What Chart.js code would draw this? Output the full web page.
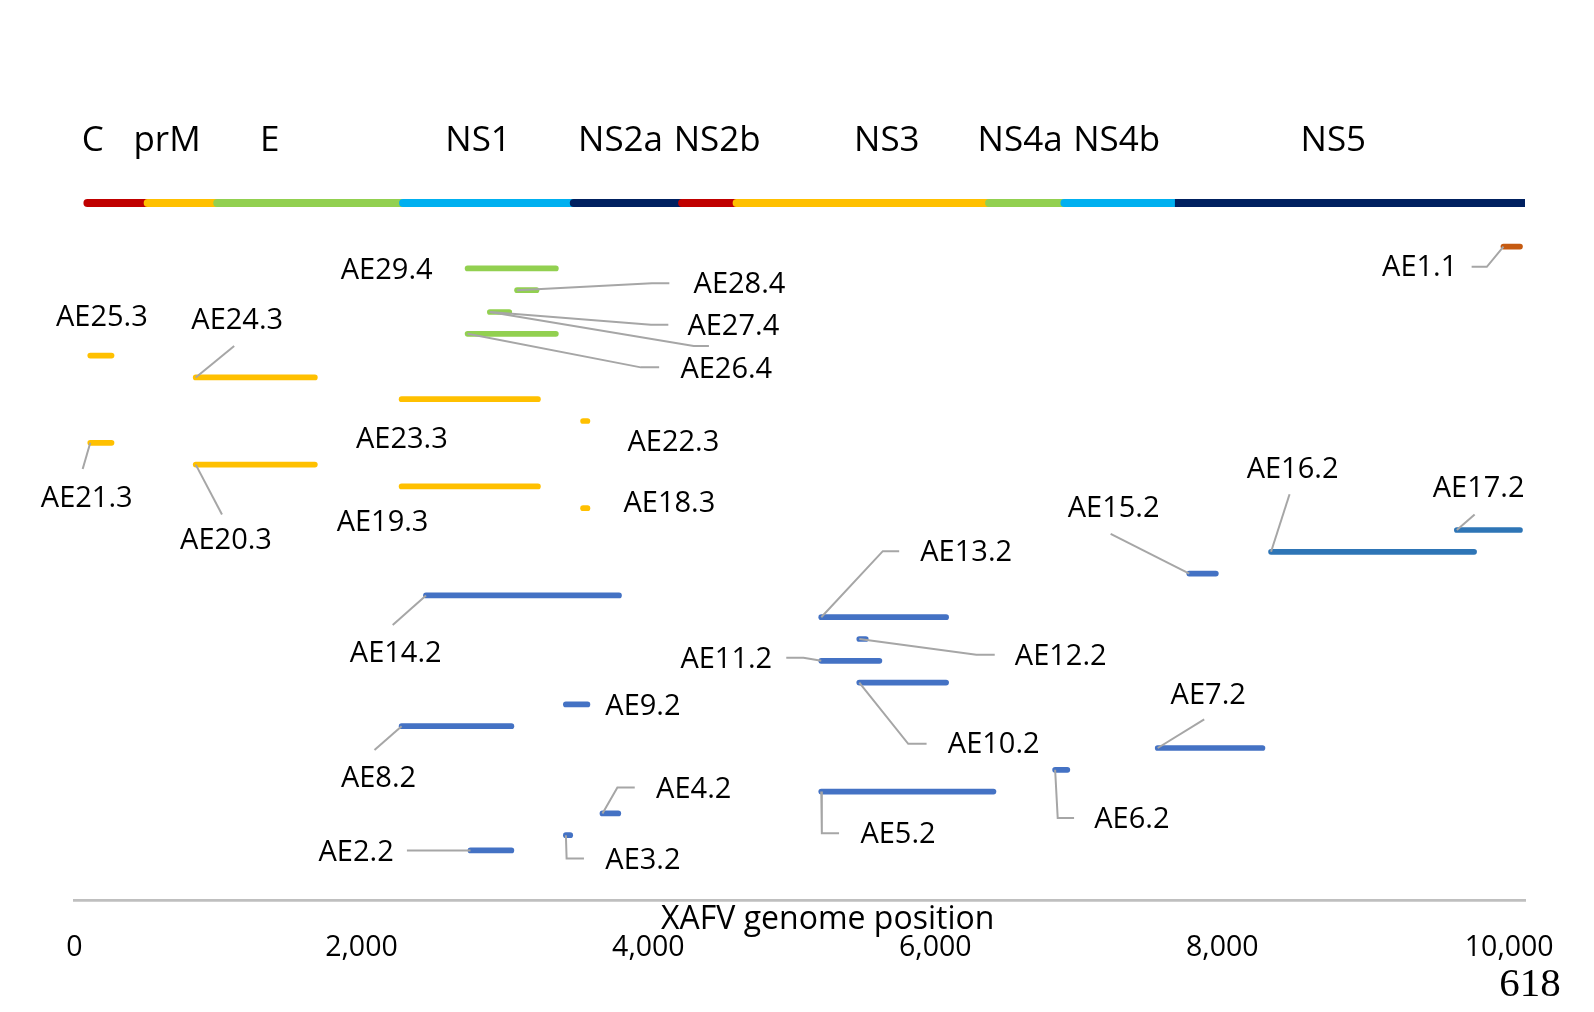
<!DOCTYPE html>
<html>
<head>
<meta charset="utf-8">
<script src="https://cdn.jsdelivr.net/npm/chart.js@4.4.1/dist/chart.umd.min.js"></script>
<style>
  html, body { margin: 0; padding: 0; background: #fff; }
  #wrap { width: 1594px; height: 1012px; position: relative; }
</style>
</head>
<body>
<div id="wrap"><canvas id="c" width="1594" height="1012"></canvas></div>
<script>
// ---------- DATA ----------
const geneNames  = ['C', 'prM', 'E', 'NS1', 'NS2a', 'NS2b', 'NS3', 'NS4a', 'NS4b', 'NS5'];
const geneStarts = [90, 510, 995, 2290, 3480, 4235, 4615, 6375, 6900, 7670];
const geneEnds   = [510, 995, 2290, 3480, 4235, 4615, 6375, 6900, 7670, 10110];
const geneLabelX = [128, 645, 1361, 2813, 3806, 4479, 5662, 6591, 7264, 8774];
const genomeRow = 30;
const geneLabelRow = 32.84;

const epitopeNames  = ['AE1.1','AE29.4','AE28.4','AE27.4','AE26.4','AE25.3','AE24.3','AE23.3','AE22.3','AE21.3','AE20.3','AE19.3','AE18.3','AE17.2','AE16.2','AE15.2','AE14.2','AE13.2','AE12.2','AE11.2','AE10.2','AE9.2','AE8.2','AE7.2','AE6.2','AE5.2','AE4.2','AE3.2','AE2.2'];
const epitopeStarts = [9960,2740,3085,2895,2740,110,845,2280,3545,110,845,2280,3545,9635,8340,7770,2450,5205,5470,5205,5470,3425,2280,7550,6835,5205,3680,3425,2760];
const epitopeEnds   = [10075,3355,3220,3030,3355,258,1675,3230,3575,258,1675,3230,3575,10075,9755,7955,3795,6075,5515,5610,6075,3575,3045,8280,6920,6405,3790,3455,3045];
const epitopeRows   = [28,27,26,25,24,23,22,21,20,19,18,17,16,15,14,13,12,11,10,9,8,7,6,5,4,3,2,1,0.3];

const xTickValues = [0, 2000, 4000, 6000, 8000, 10000];
const xAxisTitle = 'XAFV genome position';
const pageNumber = '618';

// ---------- LAYOUT (label placement & callout lines, data coordinates) ----------
const labelPos = {
  'AE1.1':[9376,27.02],'AE29.4':[2176,26.88],'AE28.4':[4635,26.23],'AE27.4':[4592,24.32],'AE26.4':[4543,22.37],
  'AE25.3':[191,24.74],'AE24.3':[1134,24.60],'AE23.3':[2282,19.15],'AE22.3':[4174,19.01],'AE21.3':[85,16.45],
  'AE20.3':[1056,14.50],'AE19.3':[2147,15.34],'AE18.3':[4146,16.22],'AE17.2':[9787,16.87],'AE16.2':[8490,17.76],
  'AE15.2':[7243,15.99],'AE14.2':[2239,9.33],'AE13.2':[6215,13.94],'AE12.2':[6874,9.19],'AE11.2':[4543,9.05],
  'AE10.2':[6407,5.14],'AE9.2':[3962,6.91],'AE8.2':[2119,3.61],'AE7.2':[7902,7.42],'AE6.2':[7370,1.70],
  'AE5.2':[5740,1.00],'AE4.2':[4316,3.09],'AE3.2':[3962,-0.17],'AE2.2':[1963,0.21]
};
const leaderLines = [
  [[9960,28],[9844,27.07],[9738,27.07]],
  [[3085,26],[4025,26.32],[4146,26.32]],
  [[2895,25],[4018,24.42],[4139,24.42]],
  [[2895,25],[4316,23.44],[4422,23.44]],
  [[2740,24],[3947,22.46],[4075,22.46]],
  [[845,22],[1113,23.44]],
  [[110,19],[57,17.80]],
  [[845,18],[1028,15.71]],
  [[9635,15],[9759,15.71]],
  [[8340,14],[8469,16.64]],
  [[7770,13],[7222,14.82]],
  [[5205,11],[5634,14.03],[5748,14.03]],
  [[2450,12],[2218,10.64]],
  [[5470,10],[6286,9.28],[6414,9.28]],
  [[5205,9],[5081,9.14],[4961,9.14]],
  [[5470,8],[5811,5.19],[5939,5.19]],
  [[2280,6],[2091,4.91]],
  [[7550,5],[7874,6.31]],
  [[6835,4],[6853,1.79],[6967,1.79]],
  [[5205,3],[5209,1.09],[5329,1.09]],
  [[3680,2],[3784,3.19],[3905,3.19]],
  [[3425,1],[3430,-0.07],[3551,-0.07]],
  [[2760,0.3],[2317,0.3]]
];

// ---------- STYLES ----------
const geneColors = ['#C00000','#FFC000','#92D050','#00B0F0','#002060','#C00000','#FFC000','#92D050','#00B0F0','#002060'];
function epitopeColor(name) {
  if (name === 'AE16.2' || name === 'AE17.2') return '#2E75B6';
  const s = name.split('.')[1];
  return { '1': '#C55A11', '2': '#4472C4', '3': '#FFC000', '4': '#92D050' }[s];
}
const FONT = '"Open Sans", "Noto Sans", sans-serif';

// ---------- DATASETS ----------
const datasets = [];
leaderLines.forEach(pts => datasets.push({
  data: pts.map(p => ({ x: p[0], y: p[1] })),
  borderColor: '#A6A6A6', borderWidth: 2, pointRadius: 0, fill: false, tension: 0, order: 0
}));
epitopeNames.forEach((n, i) => datasets.push({
  data: [{ x: epitopeStarts[i], y: epitopeRows[i] }, { x: epitopeEnds[i], y: epitopeRows[i] }],
  borderColor: epitopeColor(n), borderWidth: 5.7, borderCapStyle: 'round',
  pointRadius: 0, fill: false, order: 1
}));
geneNames.forEach((n, i) => datasets.push({
  data: [{ x: geneStarts[i], y: genomeRow }, { x: geneEnds[i], y: genomeRow }],
  borderColor: geneColors[i], borderWidth: 8, borderCapStyle: i === geneNames.length - 1 ? 'butt' : 'round',
  pointRadius: 0, fill: false, order: 2 + (geneNames.length - i)
}));

const textPlugin = {
  id: 'texts',
  afterDatasetsDraw(chart) {
    const { ctx, scales: { x, y } } = chart;
    ctx.save();
    ctx.fillStyle = '#000';
    ctx.textAlign = 'center';
    ctx.textBaseline = 'middle';
    ctx.font = '35px ' + FONT;
    geneNames.forEach((n, i) => ctx.fillText(n, x.getPixelForValue(geneLabelX[i]), y.getPixelForValue(geneLabelRow)));
    ctx.font = '29px ' + FONT;
    epitopeNames.forEach(n => {
      const p = labelPos[n];
      ctx.fillText(n, x.getPixelForValue(p[0]), y.getPixelForValue(p[1]));
    });
    ctx.font = '32px ' + FONT;
    ctx.fillText(xAxisTitle, x.getPixelForValue(5250), chart.chartArea.bottom + 19);
    ctx.font = '41px "Liberation Serif", "Times New Roman", serif';
    ctx.fillText(pageNumber, 1530, 985);
    ctx.restore();
  }
};

new Chart(document.getElementById('c'), {
  type: 'line',
  data: { datasets },
  plugins: [textPlugin],
  options: {
    responsive: false,
    devicePixelRatio: 1,
    animation: false,
    layout: { padding: { top: 115.8, left: 74.5, right: 69, bottom: 51.4 } },
    plugins: { legend: { display: false }, tooltip: { enabled: false } },
    scales: {
      x: {
        type: 'linear', min: 0, max: 10110,
        afterBuildTicks: s => { s.ticks = xTickValues.map(v => ({ value: v })); },
        afterFit: s => { s.paddingLeft = 0; s.paddingRight = 0; s.height = 60; },
        grid: { display: false, drawTicks: false },
        border: { display: true, color: '#BFBFBF', width: 2.7 },
        ticks: {
          padding: 30, color: '#000', maxRotation: 0, autoSkip: false,
          font: { family: FONT, size: 28.5 },
          callback: v => v.toLocaleString('en-US')
        }
      },
      y: { type: 'linear', min: -2, max: 34, display: false }
    }
  }
});
</script>
</body>
</html>
